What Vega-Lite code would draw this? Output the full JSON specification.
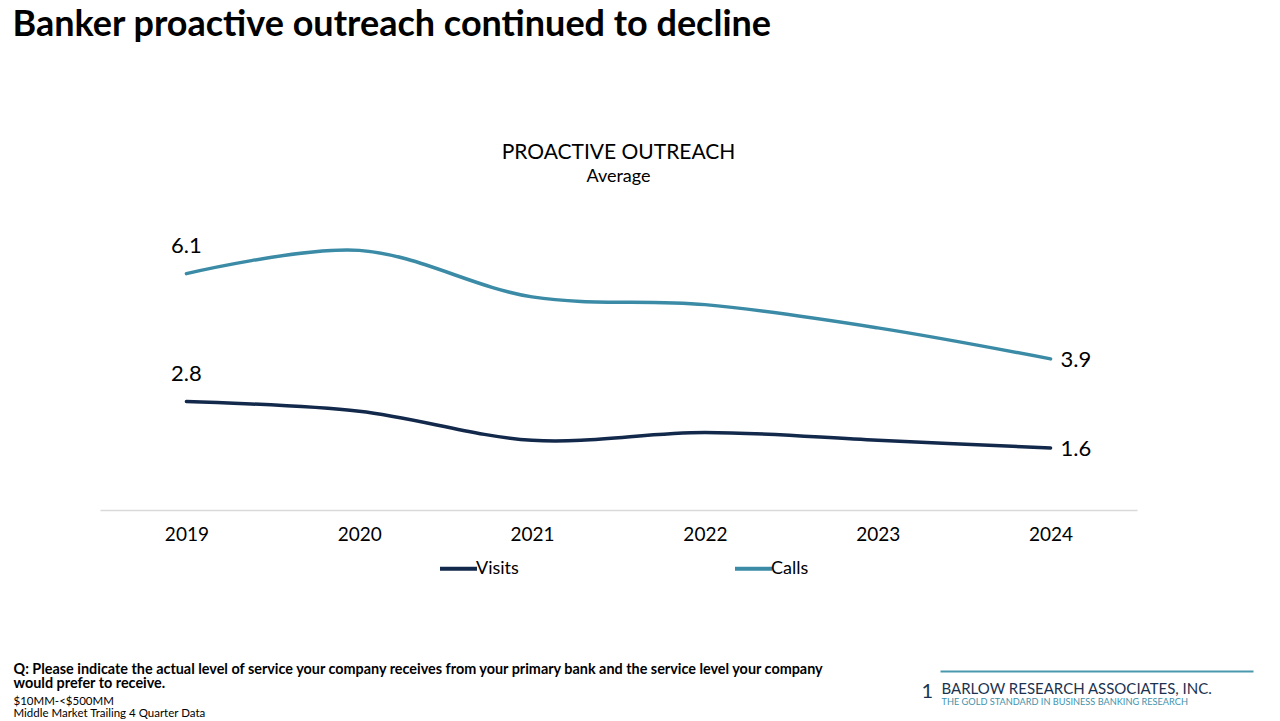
{
  "$schema": "https://vega.github.io/schema/vega-lite/v6.json",
  "width": 1037,
  "height": 310,
  "autosize": {"type": "none"},
  "padding": {"left": 100, "top": 200, "right": 143, "bottom": 211},
  "background": "white",
  "config": {
    "view": {"stroke": null},
    "font": "Lato",
    "text": {"font": "Lato"}
  },
  "title": {
    "text": "PROACTIVE OUTREACH",
    "subtitle": "Average",
    "anchor": "middle",
    "frame": "group",
    "fontSize": 21,
    "fontWeight": "normal",
    "color": "#000000",
    "subtitleFontSize": 18,
    "subtitleColor": "#000000",
    "subtitlePadding": 5,
    "offset": 13,
    "dy": 193,
    "font": "Lato",
    "subtitleFont": "Lato"
  },
  "data": {
    "values": [
      {"year": "2019", "series": "Calls", "value": 6.1},
      {"year": "2020", "series": "Calls", "value": 6.7},
      {"year": "2021", "series": "Calls", "value": 5.5},
      {"year": "2022", "series": "Calls", "value": 5.3},
      {"year": "2023", "series": "Calls", "value": 4.7},
      {"year": "2024", "series": "Calls", "value": 3.9},
      {"year": "2019", "series": "Visits", "value": 2.8},
      {"year": "2020", "series": "Visits", "value": 2.55},
      {"year": "2021", "series": "Visits", "value": 1.8},
      {"year": "2022", "series": "Visits", "value": 2.0},
      {"year": "2023", "series": "Visits", "value": 1.8},
      {"year": "2024", "series": "Visits", "value": 1.6}
    ]
  },
  "resolve": {"axis": {"x": "independent", "y": "independent"}},
  "layer": [
    {
      "mark": {"type": "line", "interpolate": "catmull-rom", "strokeWidth": 3.5, "strokeCap": "round"},
      "encoding": {
        "x": {
          "field": "year", "type": "ordinal",
          "scale": {"type": "point", "padding": 0.5},
          "axis": {
            "orient": "bottom",
            "labelAngle": 0,
            "labelFontSize": 19,
            "labelColor": "#000000",
            "labelFont": "Lato",
            "labelPadding": 15,
            "ticks": false,
            "domainColor": "#d9d9d9",
            "domainWidth": 1.5,
            "title": ["Q: Please indicate the actual level of service your company receives from your primary bank and the service level your company", "would prefer to receive."],
            "titleFont": "Lato",
            "titleFontSize": 14.4,
            "titleFontWeight": "bold",
            "titleColor": "#000000",
            "titleLineHeight": 14.5,
            "titleAlign": "left",
            "titleBaseline": "top",
            "titleX": -87,
            "titleY": 152,
            "titleLimit": 3000
          }
        },
        "y": {
          "field": "value", "type": "quantitative",
          "scale": {"domain": [0, 8]},
          "axis": {
            "orient": "left",
            "values": [0],
            "labelExpr": "'1'",
            "grid": false,
            "domain": false,
            "ticks": false,
            "tickSize": 0,
            "labelPadding": -821,
            "labelAlign": "left",
            "labelBaseline": "middle",
            "labelOffset": 181,
            "labelFontSize": 20,
            "labelColor": "#1B3350",
            "labelFont": "Lato",
            "title": ["$10MM-<$500MM", "Middle Market Trailing 4 Quarter Data"],
            "titleFont": "Lato",
            "titleFontSize": 11.5,
            "titleFontWeight": "normal",
            "titleColor": "#000000",
            "titleLineHeight": 12,
            "titleAngle": 0,
            "titleAlign": "left",
            "titleBaseline": "top",
            "titleX": -87,
            "titleY": 495,
            "titleLimit": 3000
          }
        },
        "color": {
          "field": "series", "type": "nominal",
          "scale": {"domain": ["Visits", "Calls"], "range": ["#13294B", "#3B8BA6"]},
          "legend": {
            "orient": "none",
            "legendX": 338,
            "legendY": 348,
            "direction": "horizontal",
            "title": null,
            "symbolType": "stroke",
            "symbolSize": 1369,
            "symbolStrokeWidth": 4,
            "labelFontSize": 18,
            "labelFont": "Lato",
            "labelColor": "#000000",
            "labelOffset": -3,
            "columnPadding": 208
          }
        }
      }
    },
    {
      "transform": [{"filter": "datum.year == '2019'"}],
      "mark": {"type": "text", "fontSize": 22, "font": "Lato", "color": "#000000", "dy": -28, "align": "center", "baseline": "middle"},
      "encoding": {
        "x": {"field": "year", "type": "ordinal", "axis": null},
        "y": {"field": "value", "type": "quantitative", "axis": null},
        "text": {"field": "value", "type": "quantitative", "format": ".1f"}
      }
    },
    {
      "transform": [{"filter": "datum.year == '2024'"}],
      "mark": {"type": "text", "fontSize": 22, "font": "Lato", "color": "#000000", "dx": 10, "dy": 1, "align": "left", "baseline": "middle"},
      "encoding": {
        "x": {"field": "year", "type": "ordinal", "axis": null},
        "y": {"field": "value", "type": "quantitative", "axis": null},
        "text": {"field": "value", "type": "quantitative", "format": ".1f"}
      }
    },
    {
      "mark": {"type": "point", "opacity": 0},
      "encoding": {
        "x": {
          "field": "year", "type": "ordinal",
          "axis": {
            "orient": "top",
            "labels": false,
            "ticks": false,
            "domain": false,
            "title": "Banker proactive outreach continued to decline",
            "titleFont": "Lato",
            "titleFontSize": 36,
            "titleFontWeight": "bold",
            "titleColor": "#000000",
            "titleAlign": "left",
            "titleBaseline": "middle",
            "titleX": -88,
            "titleY": -176,
            "titleLimit": 3000
          }
        },
        "y": {
          "field": "value", "type": "quantitative",
          "axis": {
            "orient": "right",
            "offset": -197,
            "values": [0],
            "labelExpr": "'THE GOLD STANDARD IN BUSINESS BANKING RESEARCH'",
            "grid": false,
            "domain": false,
            "ticks": true,
            "tickSize": 313,
            "tickWidth": 2,
            "tickColor": "#4A98AE",
            "tickOffset": 161,
            "labelPadding": -312,
            "labelAlign": "left",
            "labelBaseline": "middle",
            "labelOffset": 30,
            "labelFontSize": 9.2,
            "labelFont": "Lato",
            "labelColor": "#3F93AC",
            "labelLimit": 400,
            "title": "BARLOW RESEARCH ASSOCIATES, INC.",
            "titleFont": "Lato",
            "titleFontSize": 15,
            "titleFontWeight": "normal",
            "titleColor": "#1B3350",
            "titleAngle": 0,
            "titleAlign": "left",
            "titleBaseline": "middle",
            "titleX": 1,
            "titleY": 488,
            "titleLimit": 3000
          }
        }
      }
    }
  ]
}
